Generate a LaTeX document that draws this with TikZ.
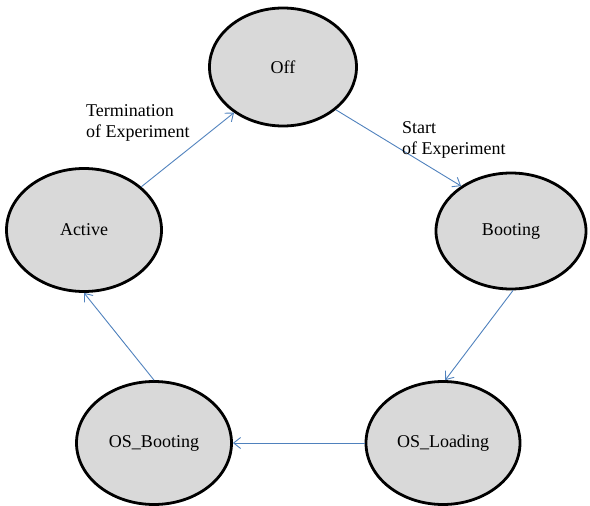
\documentclass[tikz,border=0pt]{standalone}
\usepackage{fontspec}
\setmainfont{Liberation Serif}
\usetikzlibrary{shapes.geometric,arrows.meta}
\definecolor{statefill}{HTML}{D9D9D9}
\definecolor{linkblue}{HTML}{4F81BD}
\tikzset{
  state/.style={ellipse, draw=black, line width=2.8pt, fill=statefill, inner sep=0pt, font=\fontsize{18}{21}\selectfont},
  link/.style={draw=linkblue, line width=0.9pt, -{Straight Barb[length=7pt,width=11pt]}},
  lbl/.style={align=left, anchor=base west, inner sep=0pt, font=\fontsize{18}{20.5}\selectfont}
}
\begin{document}
\begin{tikzpicture}[x=1pt,y=-1pt]
\useasboundingbox (0,0) rectangle (590,506);
\node[state, minimum width=147pt, minimum height=118pt] (off) at (283,67) {Off};
\node[state, minimum width=150pt, minimum height=116pt] (boot) at (511,231) {Booting};
\node[state, minimum width=155pt, minimum height=123pt] (act) at (84,230) {Active};
\node[state, minimum width=155pt, minimum height=123pt] (osb) at (154,443) {OS\_Booting};
\node[state, minimum width=154pt, minimum height=123pt] (osl) at (443,443) {OS\_Loading};
\draw[link] (off.-39) -- (boot.138);
\draw[link] (boot.-88) -- (osl.88);
\draw[link] (osl.west) -- (osb.east);
\draw[link] (osb.north) -- (act.south);
\draw[link] (act.37) -- (off.-137);
\node[lbl] (t1) at (86,137) {Termination\\of Experiment};
\node[lbl] (t2) at (402,154) {Start\\of Experiment};
\end{tikzpicture}
\end{document}
